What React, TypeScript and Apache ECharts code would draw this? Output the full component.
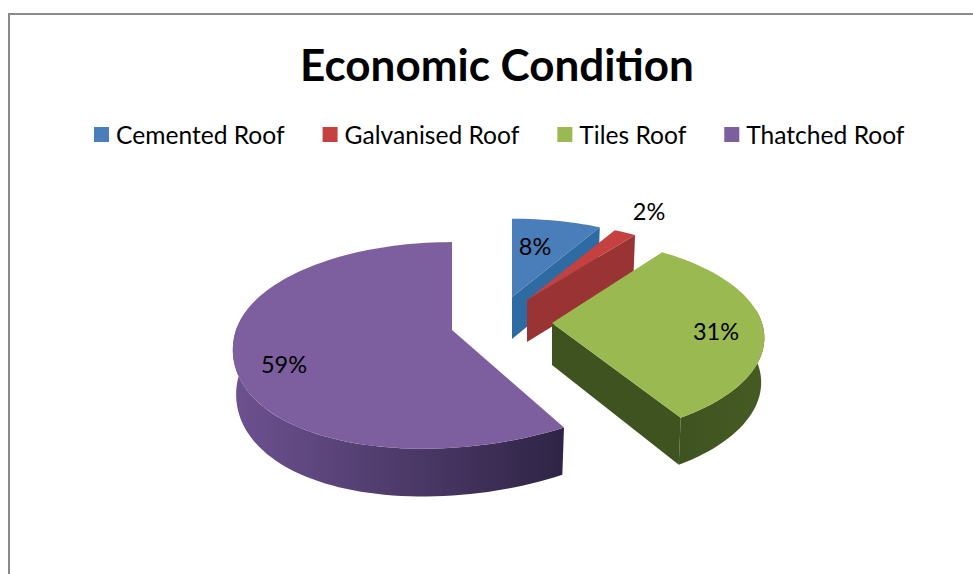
import React, { useEffect, useRef } from "react";
import * as echarts from "echarts";

const categories = ["Cemented Roof", "Galvanised Roof", "Tiles Roof", "Thatched Roof"];
const shares = [8, 2, 31, 59];
const chartTitle = "Economic Condition";

const FONT = "Lato, 'Open Sans', sans-serif";
const DEG = Math.PI / 180;
const PERSPECTIVE = 0.149;
const RIM_DEPTH = 44;
const RIM_DEPTH_PERSPECTIVE = 0.08;
const APEX_DEPTH = 42;
const BASE_INSET = 0.985;

type Wedge = {
  apex: [number, number];
  rx: number;
  ry: number;
  shear: number;
  top: string;
  cut: string;
  wall: string[];
  label: [number, number];
};

// Each exploded wedge has its own apex and projected radii in the tilted view.
const wedges: Wedge[] = [
  { apex: [512, 297], rx: 206, ry: 90, shear: 0, top: "#4a7ebb", cut: "#2f6ba3", wall: ["#2f6ba3", "#2f6ba3"], label: [535, 246] },
  { apex: [527, 300], rx: 206, ry: 90, shear: 0, top: "#c4413f", cut: "#9a3434", wall: ["#9a3434", "#9a3434"], label: [649, 211] },
  { apex: [552, 323], rx: 210, ry: 98, shear: 0, top: "#9ab950", cut: "#3f5321", wall: ["#3f5321", "#465b22"], label: [716, 331] },
  { apex: [452, 330], rx: 216, ry: 101, shear: -25, top: "#7d5e9e", cut: "#4a3768", wall: ["#6d5190", "#2f2445"], label: [284, 364] },
];

function project(w: Wedge, angle: number, base: boolean): number[] {
  const u = Math.sin(angle);
  const v = -Math.cos(angle);
  const k = 1 - PERSPECTIVE * v;
  const front = Math.max(v, 0);
  const dx = (w.rx * u + w.shear * front * front) / k;
  const dy = w.ry * v / k;
  if (!base) return [w.apex[0] + dx, w.apex[1] + dy];
  return [w.apex[0] + dx * BASE_INSET, w.apex[1] + dy + RIM_DEPTH / (1 - RIM_DEPTH_PERSPECTIVE * v)];
}

function arc(w: Wedge, from: number, to: number, base: boolean): number[][] {
  const steps = Math.max(2, Math.ceil(Math.abs(to - from) / DEG / 2));
  const pts: number[][] = [];
  for (let i = 0; i <= steps; i++) pts.push(project(w, from + ((to - from) * i) / steps, base));
  return pts;
}

const total = shares.reduce((a, b) => a + b, 0);

function wedgeRenderer(index: number) {
  return (_params: unknown, api: any) => {
    const w = wedges[index];
    const before = shares.slice(0, index).reduce((a, b) => a + b, 0);
    const value = api.value(0) as number;
    const start = (before / total) * 360 * DEG;
    const end = ((before + value) / total) * 360 * DEG;
    const children: any[] = [];

    // Outer wall: only the stretch of the rim that turns toward the viewer.
    const visibleTo = Math.min(end, 272 * DEG);
    if (visibleTo > 90 * DEG && start < 272 * DEG) {
      const a = Math.max(start, 82 * DEG);
      children.push({
        type: "polygon",
        shape: { points: [...arc(w, a, visibleTo, false), ...arc(w, visibleTo, a, true)] },
        style: {
          fill: new echarts.graphic.LinearGradient(0, 0, 1, 0, [
            { offset: 0, color: w.wall[0] },
            { offset: 1, color: w.wall[1] },
          ]),
        },
      });
    }

    // The cut face is visible when its clockwise edge points to the front.
    if (end < Math.PI) {
      children.push({
        type: "polygon",
        shape: {
          points: [
            w.apex,
            project(w, end, false),
            project(w, end, true),
            [w.apex[0], w.apex[1] + APEX_DEPTH],
          ],
        },
        style: { fill: w.cut },
      });
    }

    children.push({
      type: "polygon",
      shape: { points: [w.apex, ...arc(w, start, end, false)] },
      style: { fill: w.top },
    });

    children.push({
      type: "text",
      style: {
        text: `${value}%`,
        x: w.label[0],
        y: w.label[1],
        align: "center",
        verticalAlign: "middle",
        fill: "#000",
        fontFamily: FONT,
        fontSize: 23.5,
      },
    });

    return { type: "group", children };
  };
}

export default function App() {
  const ref = useRef<HTMLDivElement>(null);
  useEffect(() => {
    const chart = echarts.init(ref.current!, undefined, { renderer: "svg" });
    chart.setOption({
      animation: false,
      backgroundColor: "#fff",
      title: {
        text: chartTitle,
        left: 492,
        top: 37,
        textAlign: "center",
        textStyle: { fontFamily: FONT, fontSize: 44, fontWeight: "bold", color: "#000" },
      },
      legend: {
        data: categories,
        left: 89,
        top: 117,
        icon: "rect",
        itemWidth: 15,
        itemHeight: 15,
        itemGap: 38,
        textStyle: { fontFamily: FONT, fontSize: 24.6, color: "#000", padding: [0, 0, 0, 2] },
      },
      graphic: [
        {
          type: "polyline",
          shape: { points: [[9, 574], [9, 14], [973, 14]] },
          style: { stroke: "#8a8a8a", lineWidth: 2, fill: "none" },
        },
      ],
      series: categories.map((name, i) => ({
        type: "custom",
        name,
        coordinateSystem: "none",
        itemStyle: { color: wedges[i].top },
        data: [[shares[i]]],
        renderItem: wedgeRenderer(i),
      })),
    });
    return () => chart.dispose();
  }, []);
  return <div ref={ref} style={{ position: "absolute", left: 0, top: 0, width: 973, height: 574 }} />;
}
